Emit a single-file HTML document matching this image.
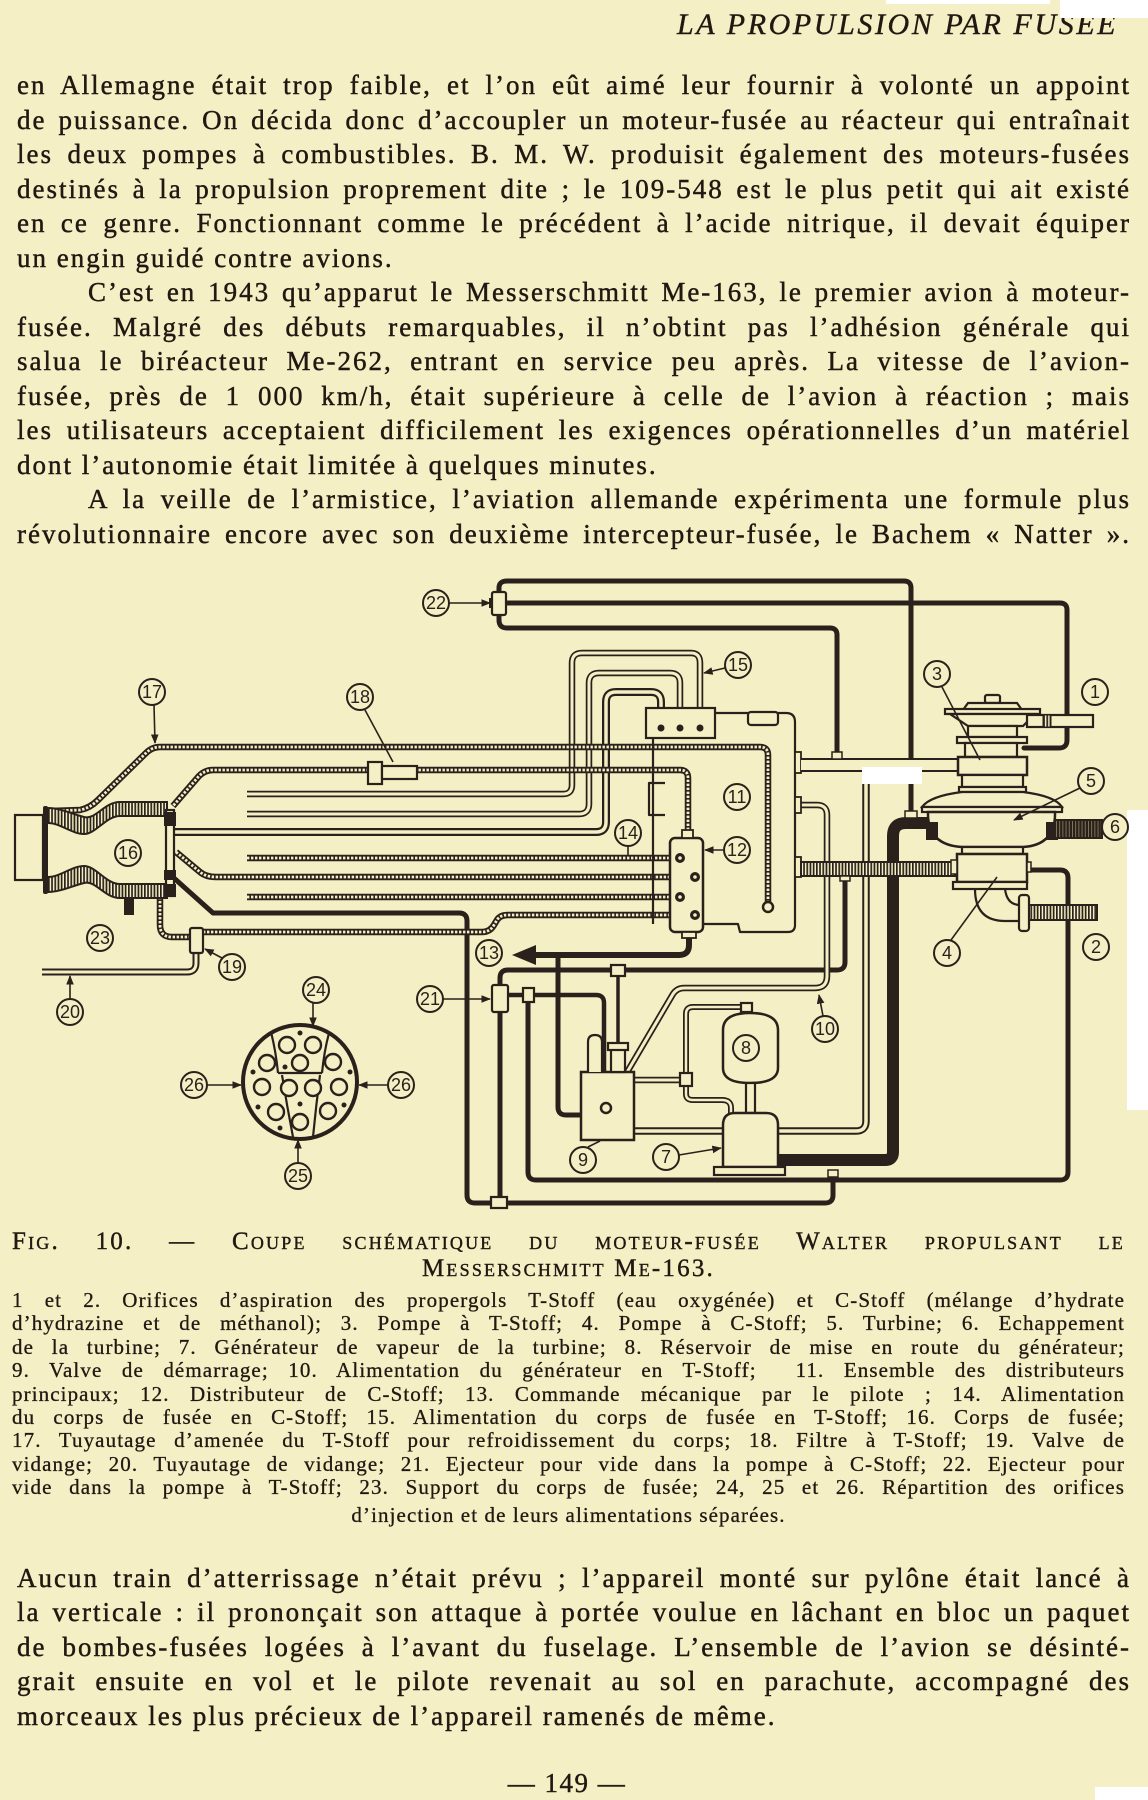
<!DOCTYPE html>
<html>
<head>
<meta charset="utf-8">
<style>
  html,body{margin:0;padding:0;}
  #page{position:relative;width:1148px;height:1800px;background:#f4efc4;overflow:hidden;color:#231712;}
  .L{position:absolute;left:17px;width:1114px;font-family:"Liberation Serif",serif;font-size:27px;line-height:27px;height:27px;letter-spacing:2px;text-align:justify;text-align-last:justify;white-space:nowrap;-webkit-text-stroke:0.45px #231712;}
  .ind{left:88px;width:1043px;}
  .nl{text-align-last:left;}
  .G{position:absolute;left:12px;width:1113px;font-family:"Liberation Serif",serif;font-size:21px;line-height:21px;height:21px;letter-spacing:1.1px;text-align:justify;text-align-last:justify;white-space:nowrap;-webkit-text-stroke:0.3px #231712;}
  .C{position:absolute;left:12px;width:1113px;font-family:"Liberation Serif",serif;font-size:25px;line-height:25px;height:25px;font-variant:small-caps;letter-spacing:2.2px;text-align:justify;text-align-last:justify;white-space:nowrap;-webkit-text-stroke:0.4px #231712;}
  .ctr{text-align:center;text-align-last:center;}
  svg{position:absolute;left:0;top:0;}
  .t{stroke:#2b211c;fill:none;stroke-width:5;stroke-linecap:round;stroke-linejoin:round;}
  .th{stroke:#2b211c;fill:none;stroke-width:2.2;stroke-linejoin:round;}
  .ho{stroke:#2b211c;fill:none;stroke-width:6.5;stroke-linejoin:round;}
  .hi{stroke:#f4efc4;fill:none;stroke-width:3;stroke-linejoin:round;}
  .hd{stroke:#f4efc4;fill:none;stroke-width:2.8;stroke-dasharray:2.4 1.6;stroke-linejoin:round;}
  .bx{fill:#f4efc4;stroke:#2b211c;stroke-width:2.2;}
  .dk{fill:#2b211c;}
  .lc{fill:#f4efc4;stroke:#2b211c;stroke-width:2;}
  .lt{font-family:"Liberation Sans Narrow","Liberation Sans",sans-serif;font-size:18px;fill:#2b211c;text-anchor:middle;}
  .ld{stroke:#2b211c;stroke-width:1.6;fill:none;}
</style>
</head>
<body>
<div id="page">

<svg width="1148" height="1800" viewBox="0 0 1148 1800">
<defs>
  <pattern id="vs" width="3.2" height="20" patternUnits="userSpaceOnUse"><rect width="3.2" height="20" fill="#f4efc4"/><rect width="1.7" height="20" fill="#2b211c"/></pattern>
  <pattern id="vd" width="3.2" height="20" patternUnits="userSpaceOnUse"><rect width="3.2" height="20" fill="#2b211c"/><rect width="0.9" height="20" fill="#8a7a5a"/></pattern>
  <marker id="ar" viewBox="0 0 10 10" refX="9" refY="5" markerWidth="6" markerHeight="6" orient="auto"><path d="M0,1 L10,5 L0,9 z" fill="#2b211c"/></marker>
  <path id="p17" d="M768,903 L768,755 Q768,747 760,747 L160,747 Q152,747 146,753 L98,800 Q90,808 80,810 L50,811"/>
  <path id="p18" d="M688,830 L688,778 Q688,770 680,770 L213,770 Q205,770 199,776 L173,806"/>
  <path id="pa" d="M247,858 L676,858"/>
  <path id="pb" d="M176,852 L200,872 Q206,877 216,877 L690,877"/>
  <path id="pc" d="M247,897 L676,897"/>
  <path id="pd" d="M160,897 L160,925 Q160,937 172,937 L190,937"/>
  <path id="pe" d="M203,932 L482,932 Q490,932 494,925 L497,920 Q500,915 508,915 L690,915"/>
  <path id="u1" d="M247,794 L563,794 Q572,794 572,785 L572,663 Q572,653 582,653 L691,653 Q700,653 700,663 L700,726"/>
  <path id="u2" d="M247,814 L579,814 Q589,814 589,804 L589,683 Q589,673 599,673 L670,673 Q680,673 680,683 L680,726"/>
  <path id="u3" d="M174,832 L596,832 Q606,832 606,822 L606,702 Q606,692 616,692 L651,692 Q661,692 661,702 L661,726"/>
  <path id="p10" d="M801,805 L817,805 Q827,805 827,815 L827,976 Q827,988 815,988 L684,988 Q677,988 673,994 L606,1108"/>
  <path id="pv" d="M634,1131 L856,1131 Q866,1131 866,1121 L866,782"/>
  <path id="p9r" d="M634,1080 L680,1080"/>
  <path id="p8" d="M686,1073 L686,1014 Q686,1007 693,1007 L740,1007 Q746,1007 746,1012"/>
  <path id="p7" d="M686,1086 L686,1094 Q686,1100 693,1100 L722,1100 Q731,1100 731,1108 L731,1113"/>
  <path id="p20" d="M196,953 L196,963 Q196,972 187,972 L42,972"/>
</defs>

<!-- white scan artifacts -->
<rect x="886" y="0" width="164" height="4" fill="#ffffff"/>
<rect x="1127" y="810" width="21" height="300" fill="#ffffff"/>
<rect x="1095" y="1787" width="53" height="13" fill="#ffffff"/>

<!-- thick black lines -->
<path class="t" d="M499,592 L499,588 Q499,581 507,581 L904,581 Q911,581 911,588 L911,812"/>
<path class="t" d="M506,603 L1060,603 Q1067,603 1067,610 L1067,740 Q1067,748 1059,748 L1024,748"/>
<path class="t" d="M499,615 L499,620 Q499,628 507,628 L830,628 Q837,628 837,635 L837,753"/>
<path class="t" d="M175,879 L213,913 L459,913 Q467,913 467,921 L467,1195 Q467,1203 475,1203 L825,1203 Q833,1203 833,1195 L833,1176"/>
<path class="t" style="stroke-width:6" d="M689,937 L689,945 Q689,955 679,955 L533,955"/>
<polygon class="dk" points="512,955 536,945 536,965"/>
<path class="t" d="M558,955 L558,1107 Q558,1115 566,1115 L581,1115"/>
<path class="t" d="M500,985 L500,978 Q500,970 508,970 L837,970 Q845,970 845,962 L845,879"/>
<path class="t" style="stroke-width:4.5" d="M508,995 L596,995 Q604,995 604,1003 L604,1072"/>
<path class="t" d="M528,1002 L528,1172 Q528,1180 536,1180 L1060,1180 Q1068,1180 1068,1172 L1068,878 Q1068,870 1060,870 L1027,870"/>
<path class="t" d="M500,1012 L500,1198"/>
<path class="t" style="stroke-width:3.5" d="M618,976 L618,1044"/>
<path class="t" style="stroke-width:12;stroke-linecap:butt" d="M778,1160 L885,1160 Q893,1160 893,1152 L893,836 Q893,823 906,823 L928,823"/>

<!-- hollow pipes -->
<use href="#u1" class="ho"/><use href="#u1" class="hi"/>
<use href="#u2" class="ho"/><use href="#u2" class="hi"/>
<use href="#u3" class="ho" style="stroke-width:8"/><use href="#u3" class="hi" style="stroke-width:3.5"/>
<use href="#p10" class="ho"/><use href="#p10" class="hi"/>
<use href="#pv" class="ho" style="stroke-width:7.5"/><use href="#pv" class="hi" style="stroke-width:3.5"/>
<use href="#p9r" class="ho"/><use href="#p9r" class="hi"/>
<use href="#p8" class="ho" style="stroke-width:6"/><use href="#p8" class="hi" style="stroke-width:2.5"/>
<use href="#p7" class="ho" style="stroke-width:6"/><use href="#p7" class="hi" style="stroke-width:2.5"/>
<use href="#p20" class="ho" style="stroke-width:7"/><use href="#p20" class="hi" style="stroke-width:3"/>

<!-- hatched pipes -->
<use href="#p17" class="ho"/><use href="#p17" class="hd"/>
<use href="#p18" class="ho"/><use href="#p18" class="hd"/>
<use href="#pa" class="ho"/><use href="#pa" class="hd"/>
<use href="#pb" class="ho"/><use href="#pb" class="hd"/>
<use href="#pc" class="ho"/><use href="#pc" class="hd"/>
<use href="#pd" class="ho"/><use href="#pd" class="hd"/>
<use href="#pe" class="ho"/><use href="#pe" class="hd"/>

<!-- distributor block (11) -->
<path class="th" d="M715,713 L786,713 Q795,713 795,722 L795,925 Q795,932 788,932 L740,932 L738,924 L703,924"/>
<path class="th" d="M653,738 L653,924"/>
<path class="th" d="M665,783 L649,783 L649,815 L665,815"/>
<rect class="bx" x="646" y="708" width="69" height="30"/>
<circle class="dk" cx="661" cy="728" r="3.5"/><circle class="dk" cx="680" cy="728" r="3.5"/><circle class="dk" cx="700" cy="728" r="3.5"/>
<rect class="bx" x="748" y="712" width="30" height="13" rx="3"/>
<rect class="bx" x="795" y="752" width="6" height="21" style="stroke-width:1.8"/>
<rect class="bx" x="795" y="797" width="6" height="16" style="stroke-width:1.8"/>
<rect class="bx" x="795" y="857" width="6" height="20" style="stroke-width:1.8"/>
<circle class="bx" cx="768" cy="907" r="5" style="stroke-width:2.5"/>

<!-- (12) -->
<rect class="bx" x="670" y="838" width="33" height="94" rx="5" style="stroke-width:2.5"/>
<rect class="bx" x="682" y="830" width="11" height="8" style="stroke-width:1.8"/>
<rect class="bx" x="682" y="932" width="14" height="6" style="stroke-width:1.8"/>
<circle class="dk" cx="680" cy="858" r="5"/><circle cx="680" cy="858" r="1.8" fill="#f4efc4"/>
<circle class="dk" cx="695" cy="877" r="5"/><circle cx="695" cy="877" r="1.8" fill="#f4efc4"/>
<circle class="dk" cx="680" cy="897" r="5"/><circle cx="680" cy="897" r="1.8" fill="#f4efc4"/>
<circle class="dk" cx="695" cy="915" r="5"/><circle cx="695" cy="915" r="1.8" fill="#f4efc4"/>

<!-- T-pipe to pump 3, striped pipe to pump 4 -->
<path d="M801,765 L958,765" stroke="#2b211c" stroke-width="14" fill="none"/>
<path d="M801,765 L958,765" stroke="#f4efc4" stroke-width="10" fill="none"/>
<rect class="bx" x="832" y="752" width="10" height="7" style="stroke-width:1.5"/>
<rect x="862" y="767" width="60" height="17" fill="#ffffff"/>
<rect x="801" y="862" width="155" height="14" fill="url(#vs)" stroke="#2b211c" stroke-width="2"/>
<rect class="bx" x="840" y="876" width="10" height="5" style="stroke-width:1.5"/>
<rect class="bx" x="905" y="811" width="12" height="7" style="stroke-width:1.5"/>

<!-- pumps & turbine -->
<rect class="bx" x="985" y="695" width="15" height="8" rx="2"/>
<path class="bx" d="M963,710 L968,703 L1017,703 L1022,710 Z"/>
<rect class="bx" x="945" y="709" width="95" height="5"/>
<path class="bx" d="M950,714 L1035,714 L1023,726 L968,726 Z"/>
<rect class="bx" x="1027" y="715" width="66" height="12"/>
<rect x="1043" y="715" width="8" height="12" fill="url(#vs)" stroke="#2b211c" stroke-width="1"/>
<rect class="bx" x="968" y="726" width="49" height="11"/>
<rect class="bx" x="957" y="737" width="70" height="6"/>
<rect class="bx" x="965" y="743" width="52" height="14"/>
<rect class="bx" x="958" y="757" width="69" height="18" style="stroke-width:2.5"/>
<rect class="bx" x="962" y="775" width="61" height="12"/>
<rect class="bx" x="959" y="787" width="67" height="5"/>
<path class="bx" d="M962,792 L1023,792 Q1055,796 1062,807 L922,807 Q930,796 962,792 Z"/>
<rect class="bx" x="922" y="807" width="140" height="5"/>
<path class="bx" style="stroke-width:2.5" d="M928,812 L1055,812 Q1056,845 1023,847 L962,847 Q927,845 928,812 Z"/>
<rect class="dk" x="926" y="822" width="12" height="18"/>
<rect class="dk" x="1046" y="822" width="12" height="18"/>
<rect x="1055" y="820" width="47" height="18" fill="url(#vd)" stroke="#2b211c" stroke-width="2"/>
<rect class="bx" x="962" y="847" width="61" height="7"/>
<rect class="bx" x="957" y="854" width="70" height="28" style="stroke-width:2.5"/>
<rect class="bx" x="953" y="882" width="74" height="7"/>
<rect class="bx" x="951" y="860" width="6" height="14" style="stroke-width:1.5"/>
<rect class="bx" x="1027" y="862" width="4" height="10" style="stroke-width:1.5"/>
<path class="th" d="M975,889 Q975,921 1005,921 L1020,921 M1005,889 Q1007,905 1020,905"/>
<rect class="bx" x="1019" y="895" width="10" height="36" rx="3"/>
<rect x="1029" y="905" width="68" height="15" fill="url(#vs)" stroke="#2b211c" stroke-width="2"/>

<!-- combustion chamber (16) -->
<rect class="bx" x="15" y="815" width="28" height="65"/>
<rect class="dk" x="43" y="806" width="5" height="88" rx="2"/>
<path d="M48,808 C60,808 72,814 84,817 C96,820 104,802 120,802 L167,802 L167,816 L120,816 C106,816 96,834 84,834 C72,834 60,823 48,823 Z" fill="url(#vs)" stroke="#2b211c" stroke-width="2"/>
<path d="M48,892 C60,892 72,886 84,883 C96,880 104,898 120,898 L167,898 L167,884 L120,884 C106,884 96,866 84,866 C72,866 60,877 48,877 Z" fill="url(#vs)" stroke="#2b211c" stroke-width="2"/>
<rect class="bx" x="166" y="810" width="8" height="86"/>
<rect class="dk" x="164" y="812" width="12" height="14"/>
<rect class="dk" x="164" y="870" width="12" height="10"/>
<rect class="dk" x="164" y="884" width="12" height="13"/>
<rect class="dk" x="124" y="897" width="10" height="18"/>

<!-- filter 18, valve 19, ejectors -->
<rect class="bx" x="368" y="762" width="14" height="22"/>
<rect class="bx" x="382" y="766" width="35" height="13"/>
<rect class="bx" x="190" y="928" width="13" height="25" rx="2"/>
<rect class="bx" x="492" y="592" width="14" height="23" rx="2"/>
<rect class="dk" x="489" y="598" width="4" height="10"/>
<rect class="bx" x="492" y="985" width="16" height="27" rx="2"/>
<rect class="bx" x="523" y="988" width="11" height="14"/>
<rect class="bx" x="611" y="965" width="14" height="11"/>
<rect class="bx" x="491" y="1197" width="16" height="11"/>
<rect class="bx" x="828" y="1170" width="10" height="7" style="stroke-width:1.5"/>

<!-- valve 9, reservoir 8, generator 7 -->
<rect class="bx" x="581" y="1072" width="53" height="68" style="stroke-width:2.5"/>
<path class="bx" d="M588,1072 L588,1042 Q588,1035 595,1035 Q602,1035 602,1042 L602,1072"/>
<rect class="bx" x="611" y="1049" width="14" height="23"/>
<rect class="bx" x="608" y="1043" width="20" height="7"/>
<circle class="bx" cx="606" cy="1108" r="5" style="stroke-width:2.5"/>
<rect class="bx" x="680" y="1073" width="12" height="13"/>
<path class="bx" style="stroke-width:2.5" d="M723,1030 Q723,1013 750,1013 Q778,1013 778,1030 L778,1068 Q778,1083 750,1083 Q723,1083 723,1068 Z"/>
<rect class="bx" x="741" y="1003" width="11" height="9"/>
<rect class="bx" x="746" y="1083" width="9" height="30"/>
<path class="bx" style="stroke-width:2.5" d="M723,1125 Q723,1113 735,1113 L766,1113 Q778,1113 778,1125 L778,1167 L723,1167 Z"/>
<rect class="bx" x="714" y="1167" width="71" height="8"/>

<!-- injector disc 24-26 -->
<circle cx="300" cy="1082" r="57" fill="#f4efc4" stroke="#2b211c" stroke-width="4"/>
<path class="th" d="M271,1032 Q276,1052 278,1073 M329,1033 Q324,1052 322,1073 M278,1073 L322,1073 M282,1075 Q287,1106 293,1137 M320,1075 Q316,1106 313,1137"/>
<g fill="#f4efc4" stroke="#2b211c" stroke-width="2.4">
<circle cx="287" cy="1045" r="8"/><circle cx="313" cy="1045" r="8"/><circle cx="300" cy="1063" r="8"/>
<circle cx="267" cy="1063" r="8"/><circle cx="333" cy="1062" r="8"/><circle cx="262" cy="1087" r="8"/>
<circle cx="289" cy="1088" r="8"/><circle cx="313" cy="1088" r="8"/><circle cx="339" cy="1087" r="8"/>
<circle cx="276" cy="1112" r="8"/><circle cx="300" cy="1122" r="8"/><circle cx="328" cy="1111" r="8"/>
</g>
<g class="dk">
<circle cx="300" cy="1033" r="2.5"/><circle cx="285" cy="1067" r="2.5"/><circle cx="253" cy="1072" r="2.5"/>
<circle cx="350" cy="1072" r="2.5"/><circle cx="258" cy="1107" r="2.5"/><circle cx="300" cy="1104" r="2.5"/>
<circle cx="344" cy="1105" r="2.5"/><circle cx="280" cy="1128" r="2.5"/>
</g>

<!-- leader lines -->
<line class="ld" x1="942" y1="687" x2="980" y2="760"/>
<line class="ld" x1="951" y1="940" x2="997" y2="877"/>
<line class="ld" x1="1080" y1="788" x2="1014" y2="820" marker-end="url(#ar)"/>
<line class="ld" x1="679" y1="1155" x2="721" y2="1148" marker-end="url(#ar)"/>
<line class="ld" x1="588" y1="1147" x2="600" y2="1141"/>
<line class="ld" x1="823" y1="1016" x2="819" y2="995" marker-end="url(#ar)"/>
<line class="ld" x1="724" y1="850" x2="705" y2="850" marker-end="url(#ar)"/>
<line class="ld" x1="628" y1="846" x2="628" y2="856"/>
<line class="ld" x1="725" y1="668" x2="704" y2="673" marker-end="url(#ar)"/>
<line class="ld" x1="154" y1="705" x2="155" y2="743" marker-end="url(#ar)"/>
<line class="ld" x1="365" y1="710" x2="393" y2="762"/>
<line class="ld" x1="222" y1="958" x2="205" y2="949" marker-end="url(#ar)"/>
<line class="ld" x1="70" y1="999" x2="70" y2="976" marker-end="url(#ar)"/>
<line class="ld" x1="443" y1="999" x2="490" y2="999" marker-end="url(#ar)"/>
<line class="ld" x1="449" y1="603" x2="490" y2="603" marker-end="url(#ar)"/>
<line class="ld" x1="313" y1="1003" x2="313" y2="1026" marker-end="url(#ar)"/>
<line class="ld" x1="298" y1="1163" x2="298" y2="1140" marker-end="url(#ar)"/>
<line class="ld" x1="207" y1="1085" x2="241" y2="1085" marker-end="url(#ar)"/>
<line class="ld" x1="388" y1="1085" x2="359" y2="1085" marker-end="url(#ar)"/>

<!-- labels -->
<g>
<circle class="lc" cx="1095" cy="692" r="13"/><text class="lt" x="1095" y="698">1</text>
<circle class="lc" cx="1096" cy="947" r="13"/><text class="lt" x="1096" y="953">2</text>
<circle class="lc" cx="937" cy="674" r="13"/><text class="lt" x="937" y="680">3</text>
<circle class="lc" cx="947" cy="953" r="13"/><text class="lt" x="947" y="959">4</text>
<circle class="lc" cx="1091" cy="781" r="13"/><text class="lt" x="1091" y="787">5</text>
<circle class="lc" cx="1115" cy="827" r="13"/><text class="lt" x="1115" y="833">6</text>
<circle class="lc" cx="666" cy="1157" r="13"/><text class="lt" x="666" y="1163">7</text>
<circle class="lc" cx="746" cy="1048" r="13"/><text class="lt" x="746" y="1054">8</text>
<circle class="lc" cx="583" cy="1160" r="13"/><text class="lt" x="583" y="1166">9</text>
<circle class="lc" cx="825" cy="1029" r="13"/><text class="lt" x="825" y="1035">10</text>
<circle class="lc" cx="737" cy="797" r="13"/><text class="lt" x="737" y="803">11</text>
<circle class="lc" cx="737" cy="850" r="13"/><text class="lt" x="737" y="856">12</text>
<circle class="lc" cx="489" cy="953" r="13"/><text class="lt" x="489" y="959">13</text>
<circle class="lc" cx="628" cy="833" r="13"/><text class="lt" x="628" y="839">14</text>
<circle class="lc" cx="738" cy="665" r="13"/><text class="lt" x="738" y="671">15</text>
<circle class="lc" cx="128" cy="853" r="13"/><text class="lt" x="128" y="859">16</text>
<circle class="lc" cx="152" cy="692" r="13"/><text class="lt" x="152" y="698">17</text>
<circle class="lc" cx="360" cy="697" r="13"/><text class="lt" x="360" y="703">18</text>
<circle class="lc" cx="232" cy="967" r="13"/><text class="lt" x="232" y="973">19</text>
<circle class="lc" cx="70" cy="1012" r="13"/><text class="lt" x="70" y="1018">20</text>
<circle class="lc" cx="430" cy="999" r="13"/><text class="lt" x="430" y="1005">21</text>
<circle class="lc" cx="436" cy="603" r="13"/><text class="lt" x="436" y="609">22</text>
<circle class="lc" cx="100" cy="938" r="13"/><text class="lt" x="100" y="944">23</text>
<circle class="lc" cx="316" cy="990" r="13"/><text class="lt" x="316" y="996">24</text>
<circle class="lc" cx="298" cy="1176" r="13"/><text class="lt" x="298" y="1182">25</text>
<circle class="lc" cx="194" cy="1085" r="13"/><text class="lt" x="194" y="1091">26</text>
<circle class="lc" cx="401" cy="1085" r="13"/><text class="lt" x="401" y="1091">26</text>
</g>
</svg>

<!-- header -->
<div style="position:absolute;left:677px;top:10px;font-family:'Liberation Serif',serif;font-style:italic;font-size:30px;line-height:30px;letter-spacing:2.6px;white-space:nowrap;-webkit-text-stroke:0.4px #231712;">LA PROPULSION PAR FUSÉE</div>
<div style="position:absolute;left:1060px;top:0;width:88px;height:18px;background:#ffffff;"></div>

<!-- paragraph 1 -->
<div class="L" style="top:72px">en Allemagne était trop faible, et l’on eût aimé leur fournir à volonté un appoint</div>
<div class="L" style="top:107px">de puissance. On décida donc d’accoupler un moteur-fusée au réacteur qui entraînait</div>
<div class="L" style="top:141px">les deux pompes à combustibles. B. M. W. produisit également des moteurs-fusées</div>
<div class="L" style="top:176px">destinés à la propulsion proprement dite ; le 109-548 est le plus petit qui ait existé</div>
<div class="L" style="top:210px">en ce genre. Fonctionnant comme le précédent à l’acide nitrique, il devait équiper</div>
<div class="L nl" style="top:245px">un engin guidé contre avions.</div>
<div class="L ind" style="top:279px">C’est en 1943 qu’apparut le Messerschmitt Me-163, le premier avion à moteur-</div>
<div class="L" style="top:314px">fusée. Malgré des débuts remarquables, il n’obtint pas l’adhésion générale qui</div>
<div class="L" style="top:348px">salua le biréacteur Me-262, entrant en service peu après. La vitesse de l’avion-</div>
<div class="L" style="top:383px">fusée, près de 1 000 km/h, était supérieure à celle de l’avion à réaction ; mais</div>
<div class="L" style="top:417px">les utilisateurs acceptaient difficilement les exigences opérationnelles d’un matériel</div>
<div class="L nl" style="top:452px">dont l’autonomie était limitée à quelques minutes.</div>
<div class="L ind" style="top:486px">A la veille de l’armistice, l’aviation allemande expérimenta une formule plus</div>
<div class="L" style="top:521px">révolutionnaire encore avec son deuxième intercepteur-fusée, le Bachem « Natter ».</div>

<!-- caption -->
<div class="C" style="top:1229px">Fig. 10. — Coupe schématique du moteur-fusée Walter propulsant le</div>
<div class="C ctr" style="top:1256px">Messerschmitt Me-163.</div>

<div class="G" style="top:1290px">1 et 2. Orifices d’aspiration des propergols T-Stoff (eau oxygénée) et C-Stoff (mélange d’hydrate</div>
<div class="G" style="top:1313px">d’hydrazine et de méthanol); 3. Pompe à T-Stoff; 4. Pompe à C-Stoff; 5. Turbine; 6. Echappement</div>
<div class="G" style="top:1337px">de la turbine; 7. Générateur de vapeur de la turbine; 8. Réservoir de mise en route du générateur;</div>
<div class="G" style="top:1360px">9. Valve de démarrage; 10. Alimentation du générateur en T-Stoff;&nbsp; 11. Ensemble des distributeurs</div>
<div class="G" style="top:1384px">principaux; 12. Distributeur de C-Stoff; 13. Commande mécanique par le pilote ; 14. Alimentation</div>
<div class="G" style="top:1407px">du corps de fusée en C-Stoff; 15. Alimentation du corps de fusée en T-Stoff; 16. Corps de fusée;</div>
<div class="G" style="top:1430px">17. Tuyautage d’amenée du T-Stoff pour refroidissement du corps; 18. Filtre à T-Stoff; 19. Valve de</div>
<div class="G" style="top:1454px">vidange; 20. Tuyautage de vidange; 21. Ejecteur pour vide dans la pompe à C-Stoff; 22. Ejecteur pour</div>
<div class="G" style="top:1477px">vide dans la pompe à T-Stoff; 23. Support du corps de fusée; 24, 25 et 26. Répartition des orifices</div>
<div class="G ctr" style="top:1505px">d’injection et de leurs alimentations séparées.</div>

<!-- bottom paragraph -->
<div class="L" style="top:1565px">Aucun train d’atterrissage n’était prévu ; l’appareil monté sur pylône était lancé à</div>
<div class="L" style="top:1599px">la verticale : il prononçait son attaque à portée voulue en lâchant en bloc un paquet</div>
<div class="L" style="top:1634px">de bombes-fusées logées à l’avant du fuselage. L’ensemble de l’avion se désinté-</div>
<div class="L" style="top:1668px">grait ensuite en vol et le pilote revenait au sol en parachute, accompagné des</div>
<div class="L nl" style="top:1703px">morceaux les plus précieux de l’appareil ramenés de même.</div>

<div style="position:absolute;left:467px;width:200px;top:1770px;text-align:center;font-family:'Liberation Serif',serif;font-size:27px;line-height:27px;letter-spacing:1.5px;white-space:nowrap;-webkit-text-stroke:0.4px #231712;">— 149 —</div>

</div>
</body>
</html>
